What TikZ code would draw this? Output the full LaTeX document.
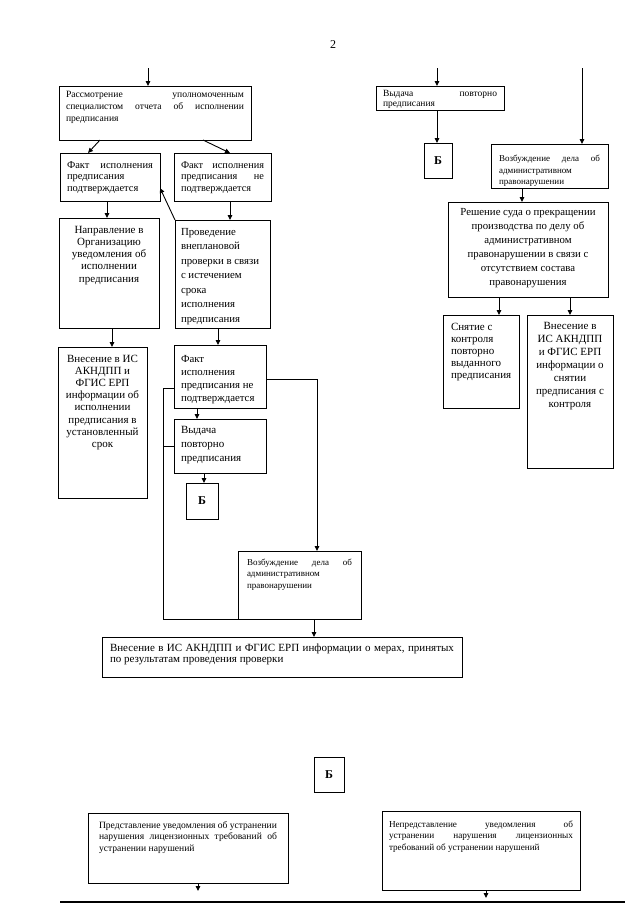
\documentclass[tikz,border=0pt]{standalone}
\usepackage{fontspec}
\setmainfont{Liberation Serif}
\usetikzlibrary{arrows.meta}
\newcommand\fs[2]{\fontsize{#1}{#2}\selectfont}
% name x1 y1 x2 y2 padx firstbaseline format text
\newcommand\bx[9]{\node[boxst,inner xsep=#6pt,anchor=north west] (#1) at (#2,#3)
  {\parbox[t][\dimexpr#5pt-#3pt\relax][t]{\dimexpr#4pt-#2pt-#6pt-#6pt\relax}{#8\rule{0pt}{#7pt}#9}};}
\tikzset{
  boxst/.style={draw,line width=0.9pt,inner ysep=0pt,outer sep=0pt},
  bbox/.style={draw,line width=0.9pt,inner sep=0pt,outer sep=0pt,anchor=north west,font=\bfseries\fs{12}{12}},
  conn/.style={line width=0.9pt},
  arr/.style={conn,-{Triangle[length=5pt,width=4.5pt]}}
}
\begin{document}
\begin{tikzpicture}[x=1pt,y=-1pt]
\useasboundingbox (0,0) rectangle (640,905);
\node (pnum) at (333,45) {\fs{12}{12}2};
% left column
\bx{A}{59}{86}{251}{140}{7}{11.5}{\fs{9.6}{12}}{Рассмотрение уполномоченным\linebreak специалистом отчета об исполнении\linebreak предписания}
\bx{B}{60}{153}{160}{201}{7}{15}{\fs{10.5}{11.7}}{Факт исполнения\linebreak предписания\\ подтверждается}
\bx{C}{174}{153}{271}{201}{7}{15}{\fs{10.3}{11.7}}{Факт исполнения\linebreak предписания не\linebreak подтверждается}
\bx{D}{59}{218}{159}{328}{5}{15}{\fs{11}{12.3}\centering}{Направление в\\ Организацию\\ уведомления об\\ исполнении\\ предписания}
\bx{E}{175}{220}{270}{328}{6}{15}{\fs{10.8}{14.5}\raggedright}{Проведение\\ внеплановой\\ проверки в связи\\ с истечением\\ срока\\ исполнения\\ предписания}
\bx{F}{58}{347}{147}{498}{4}{15}{\fs{11}{12.2}\centering}{Внесение в ИС\\ АКНДПП и\\ ФГИС ЕРП\\ информации об\\ исполнении\\ предписания в\\ установленный\\ срок}
\bx{G}{174}{345}{266}{408}{7}{17}{\fs{10.8}{13.3}\raggedright}{Факт\\ исполнения\\ предписания не\\ подтверждается}
\bx{H}{174}{419}{266}{473}{7}{14}{\fs{11}{14}\raggedright}{Выдача\\ повторно\\ предписания}
\node[bbox,minimum width=32pt,minimum height=36pt] (I) at (186,483) {Б};
\bx{J}{238}{551}{361}{619}{9}{14}{\fs{9}{11.7}}{Возбуждение дела об\linebreak административном\\ правонарушении}
\bx{K}{102}{637}{462}{677}{8}{14}{\fs{11}{11.7}}{Внесение в ИС АКНДПП и ФГИС ЕРП информации о мерах, принятых\linebreak по результатам проведения проверки}
% right column
\bx{L}{376}{86}{504}{110}{7}{10.5}{\fs{9.5}{9.5}}{Выдача повторно\linebreak предписания}
\node[bbox,minimum width=28pt,minimum height=35pt] (M) at (424,143) {Б};
\bx{N}{491}{144}{608}{188}{8}{17.5}{\fs{9}{11.5}}{Возбуждение дела об\linebreak административном\\ правонарушении}
\bx{O}{448}{202}{608}{297}{6}{13}{\fs{10.8}{14}\centering}{Решение суда о прекращении\\ производства по делу об\\ административном\\ правонарушении в связи с\\ отсутствием состава\\ правонарушения}
\bx{P}{443}{315}{519}{408}{8}{15}{\fs{11}{12}\raggedright}{Снятие с\\ контроля\\ повторно\\ выданного\\ предписания}
\bx{Q}{527}{315}{613}{468}{5}{14}{\fs{11}{13}\centering}{Внесение в\\ ИС АКНДПП\\ и ФГИС ЕРП\\ информации о\\ снятии\\ предписания с\\ контроля}
% bottom
\node[bbox,minimum width=30pt,minimum height=35pt] (R) at (314,757) {Б};
\bx{S}{88}{813}{288}{883}{11}{15}{\fs{9.6}{11.7}}{Представление уведомления об устранении\linebreak нарушения лицензионных требований об\linebreak устранении нарушений}
\bx{T}{382}{811}{580}{890}{7}{16}{\fs{9.2}{11.7}}{Непредставление уведомления об\linebreak устранении нарушения лицензионных\linebreak требований об устранении нарушений}
% connectors left
\coordinate (t1) at (148,68);
\draw[arr] (t1) -- (A.north -| t1);
\draw[arr] ([xshift=41pt]A.south west) -- ([xshift=28pt]B.north west);
\draw[arr] ([xshift=144pt]A.south west) -- ([xshift=56pt]C.north west);
\draw[arr] ([xshift=47pt]B.south west) -- ([xshift=48pt]D.north west);
\draw[arr] ([xshift=56pt]C.south west) -- ([xshift=55pt]E.north west);
\draw[arr] (E.north west) -- ([yshift=-11pt]B.east);
\draw[arr] ([xshift=53pt]D.south west) -- ([xshift=54pt]F.north west);
\draw[arr] ([xshift=43pt]E.south west) -- ([xshift=44pt]G.north west);
\draw[arr] ([xshift=23pt]G.south west) -- ([xshift=23pt]H.north west);
\draw[arr] ([xshift=30pt]H.south west) -- ([xshift=18pt]I.north west);
\coordinate (lx) at (163,619);
\draw[conn] ([yshift=-11.5pt]G.west) -| (lx) -- (J.south west);
\draw[conn] (H.west) -- (H.west -| lx);
\draw[arr] ([yshift=-2.5pt]G.east) -| ([xshift=79pt]J.north west);
\draw[arr] ([xshift=76pt]J.south west) -- ([xshift=212pt]K.north west);
% connectors right
\coordinate (t2) at (437,68);
\draw[arr] (t2) -- (L.north -| t2);
\draw[arr] (L.south -| t2) -- (M.north -| t2);
\coordinate (t3) at (582,68);
\draw[arr] (t3) -- (N.north -| t3);
\draw[arr] ([xshift=31pt]N.south west) -- ([xshift=74pt]O.north west);
\draw[arr] ([xshift=51pt]O.south west) -- ([xshift=56pt]P.north west);
\draw[arr] ([xshift=122pt]O.south west) -- ([xshift=43pt]Q.north west);
% connectors bottom
\coordinate (s1) at (198,891);
\coordinate (s2) at (486,898);
\draw[arr] (S.south -| s1) -- (s1);
\draw[arr] (T.south -| s2) -- (s2);
\draw[line width=2.5pt] (60,902) -- (625,902);
\end{tikzpicture}
\end{document}
